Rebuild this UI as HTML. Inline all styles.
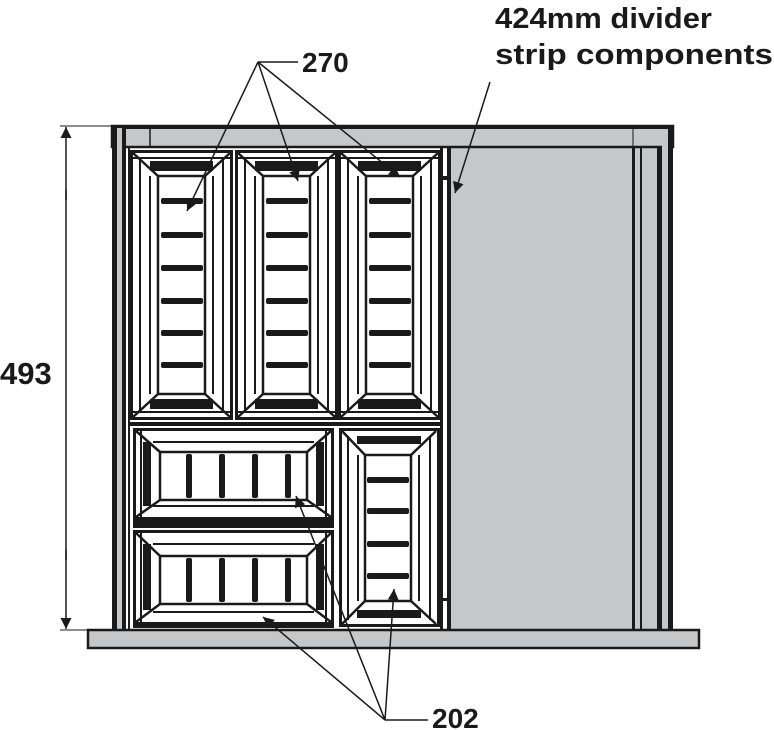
<!DOCTYPE html>
<html><head><meta charset="utf-8"><style>
html,body{margin:0;padding:0;background:#fff;}
svg{display:block;}
text{font-family:"Liberation Sans",sans-serif;font-weight:bold;fill:#1a1a1a;}
</style></head><body>
<svg width="774" height="730" viewBox="0 0 774 730" xmlns="http://www.w3.org/2000/svg">
<defs>
<marker id="ahl" viewBox="0 0 10 10" refX="10" refY="5" markerWidth="11" markerHeight="26" orient="auto" markerUnits="userSpaceOnUse">
<path d="M0,0 L10,5 L0,10 z" fill="#1a1a1a"/></marker>
</defs>

<!-- grey panel -->
<rect x="450" y="146" width="212" height="484" fill="#c6c7c9"/>
<!-- top rail -->
<rect x="112" y="126" width="561" height="21" fill="#c6c7c9" stroke="#1a1a1a" stroke-width="2.5"/>
<rect x="112" y="125" width="561" height="4" fill="#1a1a1a"/>
<line x1="150" y1="128" x2="150" y2="146" stroke="#1a1a1a" stroke-width="1.5"/>
<line x1="633" y1="128" x2="633" y2="146" stroke="#1a1a1a" stroke-width="1"/>
<!-- left side -->
<rect x="112" y="126" width="5" height="505" fill="#1a1a1a"/>
<rect x="117" y="128" width="5" height="503" fill="#c6c7c9"/>
<rect x="122" y="128" width="4" height="503" fill="#1a1a1a"/>
<rect x="128" y="146" width="2" height="485" fill="#1a1a1a"/>
<!-- right side -->
<rect x="632" y="146" width="3" height="485" fill="#1a1a1a"/>
<rect x="640" y="146" width="2" height="485" fill="#1a1a1a"/>
<rect x="657" y="146" width="5" height="485" fill="#1a1a1a"/>
<rect x="662" y="130" width="6" height="501" fill="#c6c7c9"/>
<rect x="668" y="126" width="5" height="505" fill="#1a1a1a"/>
<!-- divider strip -->
<rect x="440" y="148" width="3" height="482" fill="#1a1a1a"/>
<rect x="447" y="148" width="4" height="482" fill="#1a1a1a"/>
<rect x="443" y="176" width="4" height="4" fill="#1a1a1a"/>
<rect x="443" y="598" width="4" height="3" fill="#1a1a1a"/>
<!-- base -->
<rect x="88" y="630" width="611" height="18" fill="#c6c7c9" stroke="#1a1a1a" stroke-width="2.5"/>

<g transform="translate(130,150)">
 <rect x="1.5" y="1.5" width="100" height="267" fill="#fff" stroke="#1a1a1a" stroke-width="3"/>
 <line x1="10" y1="8" x2="10" y2="262" stroke="#1a1a1a" stroke-width="2"/>
 <line x1="93" y1="8" x2="93" y2="262" stroke="#1a1a1a" stroke-width="2"/>
 <line x1="3" y1="8" x2="100" y2="8" stroke="#1a1a1a" stroke-width="2"/>
 <line x1="3" y1="262" x2="100" y2="262" stroke="#1a1a1a" stroke-width="2"/>
 <rect x="20" y="11" width="63" height="10" fill="#1a1a1a"/>
 <rect x="20" y="249" width="63" height="10" fill="#1a1a1a"/>
 <rect x="28" y="26" width="47" height="218" fill="#fff" stroke="#1a1a1a" stroke-width="2.5"/>
 <line x1="20" y1="26" x2="20" y2="244" stroke="#1a1a1a" stroke-width="2"/>
 <line x1="83" y1="26" x2="83" y2="244" stroke="#1a1a1a" stroke-width="2"/>
 <path d="M3,3 L28,26 M100,3 L75,26 M3,267 L28,244 M100,267 L75,244" stroke="#1a1a1a" stroke-width="2.5"/>
 <g fill="#1a1a1a">
 <rect x="31" y="48" width="42" height="6" rx="2"/><rect x="31" y="82" width="42" height="6" rx="2"/>
 <rect x="31" y="115" width="42" height="6" rx="2"/><rect x="31" y="148" width="42" height="6" rx="2"/>
 <rect x="31" y="180" width="42" height="6" rx="2"/><rect x="31" y="212" width="42" height="6" rx="2"/>
 </g>
</g>
<g transform="translate(235,150)">
 <rect x="1.5" y="1.5" width="100" height="267" fill="#fff" stroke="#1a1a1a" stroke-width="3"/>
 <line x1="10" y1="8" x2="10" y2="262" stroke="#1a1a1a" stroke-width="2"/>
 <line x1="93" y1="8" x2="93" y2="262" stroke="#1a1a1a" stroke-width="2"/>
 <line x1="3" y1="8" x2="100" y2="8" stroke="#1a1a1a" stroke-width="2"/>
 <line x1="3" y1="262" x2="100" y2="262" stroke="#1a1a1a" stroke-width="2"/>
 <rect x="20" y="11" width="63" height="10" fill="#1a1a1a"/>
 <rect x="20" y="249" width="63" height="10" fill="#1a1a1a"/>
 <rect x="28" y="26" width="47" height="218" fill="#fff" stroke="#1a1a1a" stroke-width="2.5"/>
 <line x1="20" y1="26" x2="20" y2="244" stroke="#1a1a1a" stroke-width="2"/>
 <line x1="83" y1="26" x2="83" y2="244" stroke="#1a1a1a" stroke-width="2"/>
 <path d="M3,3 L28,26 M100,3 L75,26 M3,267 L28,244 M100,267 L75,244" stroke="#1a1a1a" stroke-width="2.5"/>
 <g fill="#1a1a1a">
 <rect x="31" y="48" width="42" height="6" rx="2"/><rect x="31" y="82" width="42" height="6" rx="2"/>
 <rect x="31" y="115" width="42" height="6" rx="2"/><rect x="31" y="148" width="42" height="6" rx="2"/>
 <rect x="31" y="180" width="42" height="6" rx="2"/><rect x="31" y="212" width="42" height="6" rx="2"/>
 </g>
</g>
<g transform="translate(338,150)">
 <rect x="1.5" y="1.5" width="100" height="267" fill="#fff" stroke="#1a1a1a" stroke-width="3"/>
 <line x1="10" y1="8" x2="10" y2="262" stroke="#1a1a1a" stroke-width="2"/>
 <line x1="93" y1="8" x2="93" y2="262" stroke="#1a1a1a" stroke-width="2"/>
 <line x1="3" y1="8" x2="100" y2="8" stroke="#1a1a1a" stroke-width="2"/>
 <line x1="3" y1="262" x2="100" y2="262" stroke="#1a1a1a" stroke-width="2"/>
 <rect x="20" y="11" width="63" height="10" fill="#1a1a1a"/>
 <rect x="20" y="249" width="63" height="10" fill="#1a1a1a"/>
 <rect x="28" y="26" width="47" height="218" fill="#fff" stroke="#1a1a1a" stroke-width="2.5"/>
 <line x1="20" y1="26" x2="20" y2="244" stroke="#1a1a1a" stroke-width="2"/>
 <line x1="83" y1="26" x2="83" y2="244" stroke="#1a1a1a" stroke-width="2"/>
 <path d="M3,3 L28,26 M100,3 L75,26 M3,267 L28,244 M100,267 L75,244" stroke="#1a1a1a" stroke-width="2.5"/>
 <g fill="#1a1a1a">
 <rect x="31" y="48" width="42" height="6" rx="2"/><rect x="31" y="82" width="42" height="6" rx="2"/>
 <rect x="31" y="115" width="42" height="6" rx="2"/><rect x="31" y="148" width="42" height="6" rx="2"/>
 <rect x="31" y="180" width="42" height="6" rx="2"/><rect x="31" y="212" width="42" height="6" rx="2"/>
 </g>
</g>
<line x1="130" y1="424" x2="440" y2="424" stroke="#1a1a1a" stroke-width="4"/>

<g transform="translate(133,428)">
 <rect x="1.5" y="1.5" width="198" height="89" fill="#fff" stroke="#1a1a1a" stroke-width="3"/>
 <line x1="8" y1="3" x2="8" y2="89" stroke="#1a1a1a" stroke-width="2"/>
 <line x1="193" y1="3" x2="193" y2="89" stroke="#1a1a1a" stroke-width="2"/>
 <rect x="10" y="14" width="8" height="64" fill="#1a1a1a"/>
 <rect x="183" y="14" width="8" height="64" fill="#1a1a1a"/>
 <line x1="20" y1="14" x2="181" y2="14" stroke="#1a1a1a" stroke-width="2"/>
 <line x1="20" y1="78" x2="181" y2="78" stroke="#1a1a1a" stroke-width="2"/>
 <rect x="27" y="24" width="147" height="48" fill="#fff" stroke="#1a1a1a" stroke-width="2.5"/>
 <path d="M3,3 L27,24 M198,3 L174,24 M3,89 L27,72 M198,89 L174,72" stroke="#1a1a1a" stroke-width="2.5"/>
 <g fill="#1a1a1a">
 <rect x="53" y="26" width="6" height="44" rx="2"/><rect x="86" y="26" width="6" height="44" rx="2"/>
 <rect x="119" y="26" width="6" height="44" rx="2"/><rect x="152" y="26" width="6" height="44" rx="2"/>
 </g>
</g>
<rect x="133" y="520" width="201" height="8" fill="#1a1a1a"/>
<g transform="translate(133,530)">
 <rect x="1.5" y="1.5" width="198" height="92" fill="#fff" stroke="#1a1a1a" stroke-width="3"/>
 <line x1="8" y1="3" x2="8" y2="92" stroke="#1a1a1a" stroke-width="2"/>
 <line x1="193" y1="3" x2="193" y2="92" stroke="#1a1a1a" stroke-width="2"/>
 <rect x="10" y="14" width="8" height="66" fill="#1a1a1a"/>
 <rect x="183" y="14" width="8" height="66" fill="#1a1a1a"/>
 <line x1="20" y1="14" x2="181" y2="14" stroke="#1a1a1a" stroke-width="2"/>
 <line x1="20" y1="82" x2="181" y2="82" stroke="#1a1a1a" stroke-width="2"/>
 <rect x="27" y="26" width="147" height="48" fill="#fff" stroke="#1a1a1a" stroke-width="2.5"/>
 <path d="M3,3 L27,26 M198,3 L174,26 M3,92 L27,74 M198,92 L174,74" stroke="#1a1a1a" stroke-width="2.5"/>
 <g fill="#1a1a1a">
 <rect x="53" y="28" width="6" height="44" rx="2"/><rect x="86" y="28" width="6" height="44" rx="2"/>
 <rect x="119" y="28" width="6" height="44" rx="2"/><rect x="152" y="28" width="6" height="44" rx="2"/>
 </g>
</g>
<rect x="133" y="623" width="201" height="5" fill="#1a1a1a"/>

<g transform="translate(339,428)">
 <rect x="1.5" y="1.5" width="98" height="196" fill="#fff" stroke="#1a1a1a" stroke-width="3"/>
 <line x1="9" y1="8" x2="9" y2="192" stroke="#1a1a1a" stroke-width="2"/>
 <line x1="91" y1="8" x2="91" y2="192" stroke="#1a1a1a" stroke-width="2"/>
 <rect x="18" y="8" width="64" height="8" fill="#1a1a1a"/>
 <rect x="18" y="182" width="64" height="8" fill="#1a1a1a"/>
 <rect x="26" y="27" width="46" height="146" fill="#fff" stroke="#1a1a1a" stroke-width="2.5"/>
 <line x1="19" y1="27" x2="19" y2="173" stroke="#1a1a1a" stroke-width="2"/>
 <line x1="80" y1="27" x2="80" y2="173" stroke="#1a1a1a" stroke-width="2"/>
 <path d="M3,3 L26,27 M97,3 L72,27 M3,196 L26,173 M97,196 L72,173" stroke="#1a1a1a" stroke-width="2.5"/>
 <g fill="#1a1a1a">
 <rect x="28" y="49" width="42" height="6" rx="2"/><rect x="28" y="80" width="42" height="6" rx="2"/>
 <rect x="28" y="113" width="42" height="6" rx="2"/><rect x="28" y="145" width="42" height="6" rx="2"/>
 </g>
</g>

<!-- dimension 493 -->
<line x1="60" y1="126" x2="112" y2="126" stroke="#1a1a1a" stroke-width="1"/>
<line x1="60" y1="630" x2="88" y2="630" stroke="#1a1a1a" stroke-width="1"/>
<line x1="66" y1="200" x2="66" y2="127" stroke="#1a1a1a" stroke-width="1.5" marker-end="url(#ahl)"/>
<line x1="66" y1="550" x2="66" y2="629" stroke="#1a1a1a" stroke-width="1.5" marker-end="url(#ahl)"/>
<line x1="66" y1="190" x2="66" y2="560" stroke="#1a1a1a" stroke-width="1.5"/>
<text x="0" y="384" font-size="31">493</text>

<!-- labels -->
<text x="302" y="72" font-size="28">270</text>
<text x="495" y="28" font-size="29" textLength="217" lengthAdjust="spacingAndGlyphs">424mm divider</text>
<text x="495" y="64" font-size="29" textLength="278" lengthAdjust="spacingAndGlyphs">strip components</text>
<text x="432" y="728" font-size="28">202</text>

<g stroke="#1a1a1a" stroke-width="1.5" fill="none">
<line x1="258" y1="62" x2="187" y2="211" marker-end="url(#ahl)"/>
<line x1="258" y1="62" x2="298" y2="181" marker-end="url(#ahl)"/>
<line x1="258" y1="62" x2="400" y2="177" marker-end="url(#ahl)"/>
<line x1="258" y1="62" x2="298" y2="62"/>
<line x1="490" y1="82" x2="455" y2="193" marker-end="url(#ahl)"/>
<line x1="385" y1="720" x2="428" y2="720"/>
<line x1="385" y1="720" x2="263" y2="617" marker-end="url(#ahl)"/>
<line x1="385" y1="720" x2="296" y2="496" marker-end="url(#ahl)"/>
<line x1="385" y1="720" x2="394" y2="589" marker-end="url(#ahl)"/>
</g>
</svg>
</body></html>
